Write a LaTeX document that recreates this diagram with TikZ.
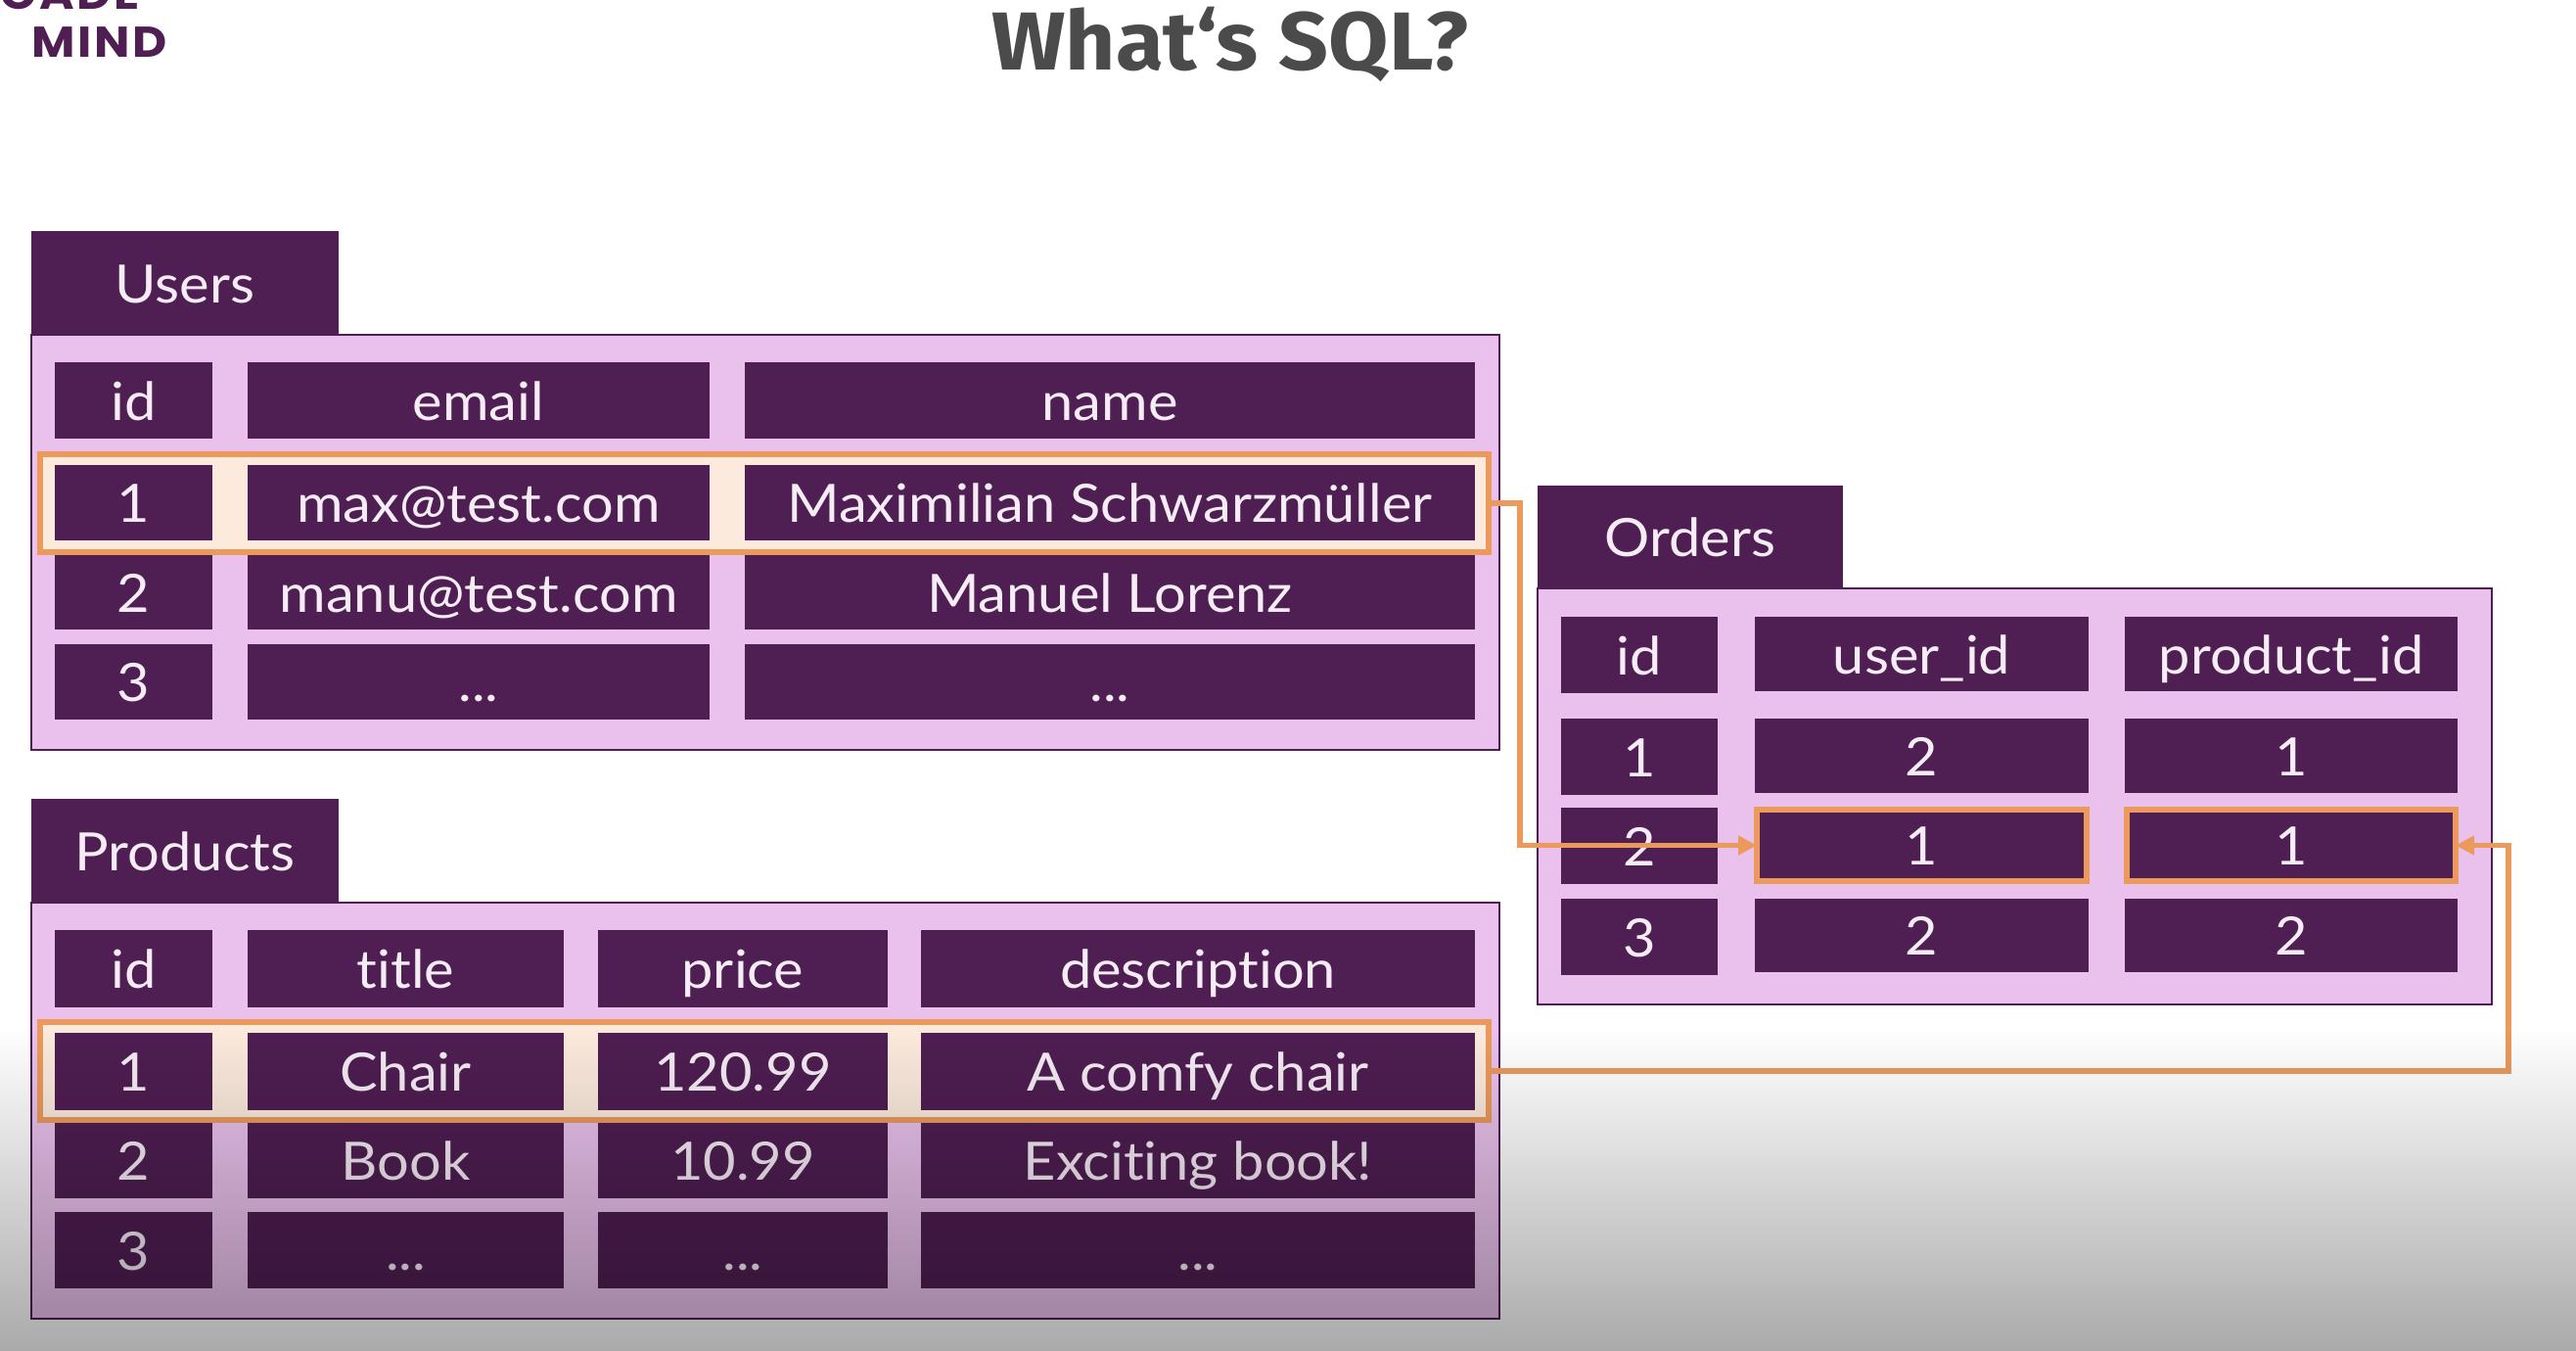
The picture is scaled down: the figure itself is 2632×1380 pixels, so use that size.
\documentclass[tikz,border=0pt]{standalone}
\usepackage{fontspec}
\setmainfont{Lato}[FakeStretch=1.07,Ligatures=NoCommon]
\newfontfamily\titlefont{Fira Sans}[FakeStretch=1.06]
\newfontfamily\logofont{Poppins}[LetterSpace=6,FakeStretch=1.1]
\usetikzlibrary{fadings,arrows.meta}
\definecolor{darkp}{HTML}{4F1E52}
\definecolor{lightp}{HTML}{E9C1EC}
\definecolor{orangeh}{HTML}{EB9A5C}
\definecolor{rowfill}{HTML}{FCEADD}
\definecolor{cellt}{HTML}{F6ECF6}
\definecolor{titlec}{HTML}{4B4B4B}
\tikzfading[name=bottomfade, top color=transparent!100, bottom color=transparent!66]
\tikzset{
  cellbox/.style={fill=darkp, text=cellt, inner sep=0pt, outer sep=0pt, align=center,
    font=\fontsize{54}{54}\selectfont, text height=40pt, text depth=0pt},
  panelbox/.style={fill=lightp, draw=darkp, line width=2.5pt, inner sep=0pt, outer sep=0pt},
  rowbox/.style={fill=rowfill, draw=orangeh, line width=6pt, inner sep=0pt, outer sep=0pt},
  pickbox/.style={draw=orangeh, line width=6pt, inner sep=0pt, outer sep=0pt},
  link/.style={draw=orangeh, line width=5.5pt, line join=miter},
  linkarrow/.style={link, -{Triangle[length=19pt,width=19pt]}}
}
\newcommand\cellbox[6]{\node[cellbox, minimum width={(#4-#2)*1pt}, minimum height={(#5-#3)*1pt}] (#1) at ({(#4+#2)/2},{(#5+#3)/2}) {#6};}
\newcommand\plainbox[6]{\node[#6, minimum width={(#4-#2)*1pt}, minimum height={(#5-#3)*1pt}] (#1) at ({(#4+#2)/2},{(#5+#3)/2}) {};}
\begin{document}
\begin{tikzpicture}[x=1pt,y=-1pt]
\useasboundingbox (0,0) rectangle (2632,1380);
\clip (0,0) rectangle (2632,1380);
\fill[white] (0,0) rectangle (2632,1380);
% logo and title
\node[anchor=base east, inner sep=0pt, text=darkp, font=\logofont\fontsize{44}{44}\selectfont\bfseries] (logoa) at (143,10) {ACADE};
\node[anchor=base west, inner sep=0pt, text=darkp, font=\logofont\fontsize{44}{44}\selectfont\bfseries] (logob) at (32,59) {MIND};
\node[anchor=base, inner sep=0pt, text=titlec, font=\titlefont\fontsize{84}{84}\selectfont\bfseries] (title) at (1257,72) {What‘s SQL?};
% Users
\plainbox{upanel}{32}{342}{1532}{766}{panelbox}
\cellbox{utab}{32}{236}{346}{342}{Users}
\cellbox{uh1}{56}{370}{217}{448}{id}
\cellbox{uh2}{253}{370}{725}{448}{email}
\cellbox{uh3}{761}{370}{1507}{448}{name}
\plainbox{urow}{41}{464}{1521}{564}{rowbox}
\cellbox{ua1}{56}{475}{217}{552}{1}
\cellbox{ua2}{253}{475}{725}{552}{max@test.com}
\cellbox{ua3}{761}{475}{1507}{552}{Maximilian Schwarzmüller}
\cellbox{ub1}{56}{567}{217}{643}{2}
\cellbox{ub2}{253}{567}{725}{643}{manu@test.com}
\cellbox{ub3}{761}{567}{1507}{643}{Manuel Lorenz}
\cellbox{uc1}{56}{658}{217}{735}{3}
\cellbox{uc2}{253}{658}{725}{735}{...}
\cellbox{uc3}{761}{658}{1507}{735}{...}
% Products
\plainbox{ppanel}{32}{922}{1532}{1347}{panelbox}
\cellbox{ptab}{32}{816}{346}{922}{Products}
\cellbox{ph1}{56}{950}{217}{1029}{id}
\cellbox{ph2}{253}{950}{576}{1029}{title}
\cellbox{ph3}{611}{950}{907}{1029}{price}
\cellbox{ph4}{941}{950}{1507}{1029}{description}
\plainbox{prow}{41}{1044}{1521}{1144}{rowbox}
\cellbox{pa1}{56}{1055}{217}{1134}{1}
\cellbox{pa2}{253}{1055}{576}{1134}{Chair}
\cellbox{pa3}{611}{1055}{907}{1134}{120.99}
\cellbox{pa4}{941}{1055}{1507}{1134}{A comfy chair}
\cellbox{pb1}{56}{1147}{217}{1224}{2}
\cellbox{pb2}{253}{1147}{576}{1224}{Book}
\cellbox{pb3}{611}{1147}{907}{1224}{10.99}
\cellbox{pb4}{941}{1147}{1507}{1224}{Exciting book!}
\cellbox{pc1}{56}{1238}{217}{1316}{3}
\cellbox{pc2}{253}{1238}{576}{1316}{...}
\cellbox{pc3}{611}{1238}{907}{1316}{...}
\cellbox{pc4}{941}{1238}{1507}{1316}{...}
% Orders
\plainbox{opanel}{1571}{601}{2546}{1026}{panelbox}
\cellbox{otab}{1571}{496}{1883}{601}{Orders}
\cellbox{oh1}{1595}{630}{1755}{708}{id}
\cellbox{oh2}{1793}{630}{2134}{706}{user\_id}
\cellbox{oh3}{2171}{630}{2511}{706}{product\_id}
\cellbox{oa1}{1595}{734}{1755}{812}{1}
\cellbox{oa2}{1793}{734}{2134}{810}{2}
\cellbox{oa3}{2171}{734}{2511}{810}{1}
\cellbox{ob1}{1595}{825}{1755}{903}{2}
\cellbox{ob2}{1793}{825}{2134}{902}{1}
\cellbox{ob3}{2171}{825}{2511}{902}{1}
\cellbox{oc1}{1595}{918}{1755}{996}{3}
\cellbox{oc2}{1793}{918}{2134}{993}{2}
\cellbox{oc3}{2171}{918}{2511}{993}{2}
\plainbox{opick1}{1795}{827}{2132}{900}{pickbox}
\plainbox{opick2}{2173}{827}{2509}{900}{pickbox}
% connectors
\coordinate (ubend) at (1553,514);
\coordinate (udown) at (1553,863.5);
\coordinate (pbend) at (2563,1094);
\coordinate (pup) at (2563,863.5);
\draw[linkarrow] (urow.east) -- (ubend) -- (udown) -- (opick1.west);
\draw[linkarrow] (prow.east) -- (pbend) -- (pup) -- (opick2.east);
% lower shadow
\fill[black, path fading=bottomfade] (-80,1050) rectangle (2712,1385);
\end{tikzpicture}
\end{document}
